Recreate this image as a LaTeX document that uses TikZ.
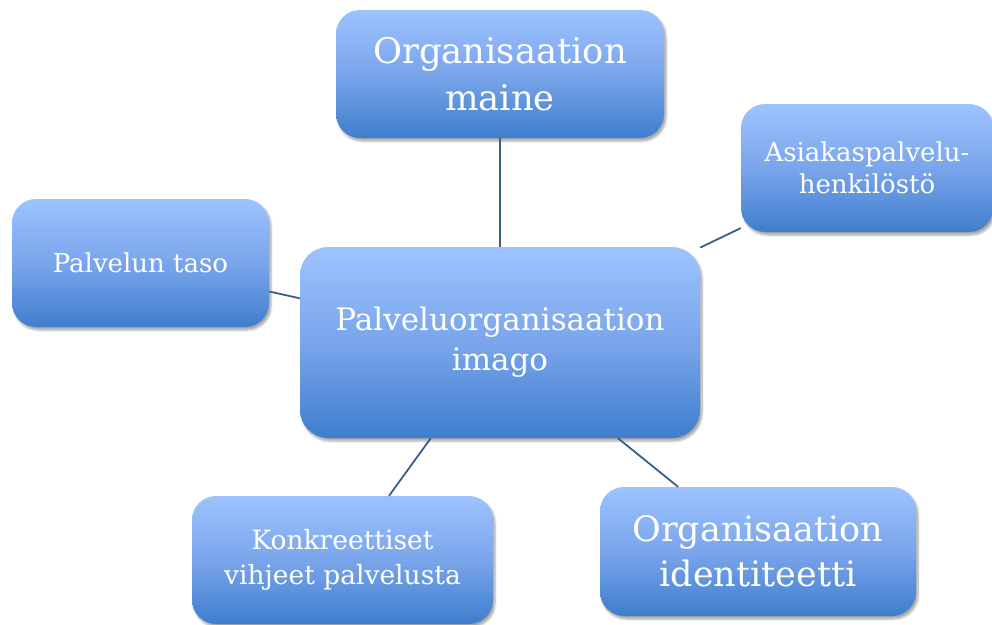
\documentclass[tikz,border=0pt]{standalone}
\usepackage{fontspec}
\setmainfont{DejaVu Serif}
\usetikzlibrary{shadows.blur}
\definecolor{boxtop}{RGB}{157,195,255}
\definecolor{boxmid}{RGB}{122,165,235}
\definecolor{boxbot}{RGB}{62,126,205}
\definecolor{linkc}{RGB}{58,94,140}
\definecolor{txt}{RGB}{255,255,255}
\tikzset{
  bubble/.style={rounded corners=24pt, inner sep=0pt, align=center, text=txt,
    top color=boxtop, bottom color=boxbot, middle color=boxmid,
    blur shadow={shadow xshift=2pt, shadow yshift=-3pt, shadow blur steps=6, shadow opacity=35}},
  link/.style={draw=linkc, line width=1.8pt},
}
\begin{document}
\begin{tikzpicture}[x=1pt,y=-1pt]
\useasboundingbox (0,0) rectangle (992,624);
\node[bubble, minimum width=400pt, minimum height=191pt, rounded corners=28pt,
  font=\fontsize{31}{40}\selectfont] (imago) at (500,342.5) {Palveluorganisaation\\imago};
\node[bubble, minimum width=328pt, minimum height=128pt,
  font=\fontsize{35.4}{47}\selectfont] (maine) at (500,74) {Organisaation\\maine};
\node[bubble, minimum width=252pt, minimum height=128pt,
  font=\fontsize{26}{32}\selectfont] (asiakas) at (867,168) {Asiakaspalvelu-\\henkilöstö};
\node[bubble, minimum width=257pt, minimum height=128pt,
  font=\fontsize{26}{32}\selectfont] (taso) at (140.5,263) {Palvelun taso};
\node[bubble, minimum width=301pt, minimum height=128pt,
  font=\fontsize{26.5}{35}\selectfont] (konk) at (342.5,560) {Konkreettiset\\vihjeet palvelusta};
\node[bubble, minimum width=316pt, minimum height=129pt,
  font=\fontsize{35}{45}\selectfont] (ident) at (758,551.5) {Organisaation\\identiteetti};
\draw[link] (maine) -- (imago);
\draw[link] (asiakas) -- (imago);
\draw[link] (taso) -- (imago);
\draw[link] (konk) -- (imago);
\draw[link] (ident) -- (imago);
\end{tikzpicture}
\end{document}
